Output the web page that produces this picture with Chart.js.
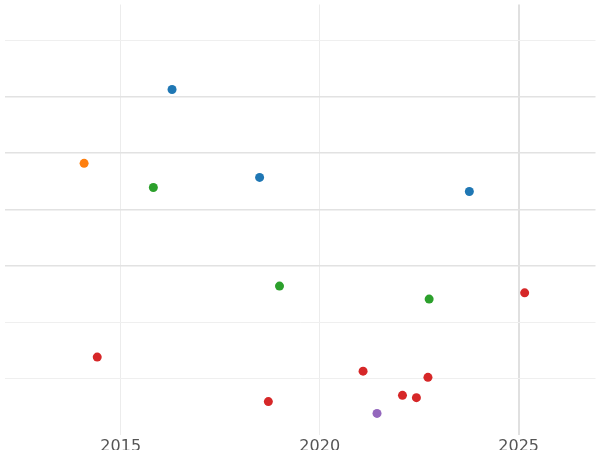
<!DOCTYPE html>
<html>
<head>
<meta charset="utf-8">
<script src="https://cdn.jsdelivr.net/npm/chart.js@4"></script>
<style>
  html, body { margin: 0; padding: 0; background: #fff; }
  #wrap { width: 600px; height: 450px; }
</style>
</head>
<body>
<div id="wrap"><canvas id="chart"></canvas></div>
<script>
// points per colour group: years and values
const blueX   = [2016.29, 2018.49, 2023.76];
const blueY   = [6.13, 4.57, 4.32];
const orangeX = [2014.08];
const orangeY = [4.82];
const greenX  = [2015.82, 2018.99, 2022.75];
const greenY  = [4.39, 2.64, 2.41];
const redX    = [2014.41, 2018.71, 2021.09, 2022.08, 2022.43, 2022.72, 2025.15];
const redY    = [1.38, 0.59, 1.13, 0.70, 0.66, 1.02, 2.52];
const purpleX = [2021.44];
const purpleY = [0.38];
const xTicks  = [2015, 2020, 2025];

const pts = (xs, ys) => xs.map((x, i) => ({ x, y: ys[i] }));
const ds = (xs, ys, color) => ({
  data: pts(xs, ys), backgroundColor: color, borderWidth: 0, pointRadius: 4.5
});

new Chart(document.getElementById('chart'), {
  type: 'scatter',
  data: {
    datasets: [
      ds(blueX, blueY, '#1f77b4'),
      ds(orangeX, orangeY, '#ff7f0e'),
      ds(greenX, greenY, '#2ca02c'),
      ds(redX, redY, '#d62728'),
      ds(purpleX, purpleY, '#9467bd')
    ]
  },
  options: {
    responsive: true, maintainAspectRatio: false, animation: false,
    layout: { padding: { left: -5, right: -5, top: -5, bottom: -8 } },
    plugins: { legend: { display: false }, tooltip: { enabled: false } },
    scales: {
      x: {
        type: 'linear', min: 2012.08, max: 2026.93,
        afterBuildTicks: axis => { axis.ticks = xTicks.map(v => ({ value: v })); },
        ticks: { color: '#555', font: { family: 'DejaVu Sans', size: 16 }, padding: 2, callback: v => String(v) },
        grid: { color: ctx => ctx.tick && ctx.tick.value === 2025 ? '#e0e0e0' : '#ececec', lineWidth: ctx => ctx.tick && ctx.tick.value === 2025 ? 2 : 1, drawTicks: false },
        border: { display: false }
      },
      y: {
        min: 0, max: 7.64,
        afterBuildTicks: axis => { axis.ticks = [1, 2, 3, 4, 5, 6, 7].map(v => ({ value: v })); },
        ticks: { display: false },
        grid: { color: ctx => [3, 4, 5, 6].includes(ctx.tick && ctx.tick.value) ? '#e2e2e2' : '#efefef', lineWidth: ctx => [3, 4, 5, 6].includes(ctx.tick && ctx.tick.value) ? 1.5 : 1, drawTicks: false },
        border: { display: false }
      }
    }
  }
});
</script>
</body>
</html>
